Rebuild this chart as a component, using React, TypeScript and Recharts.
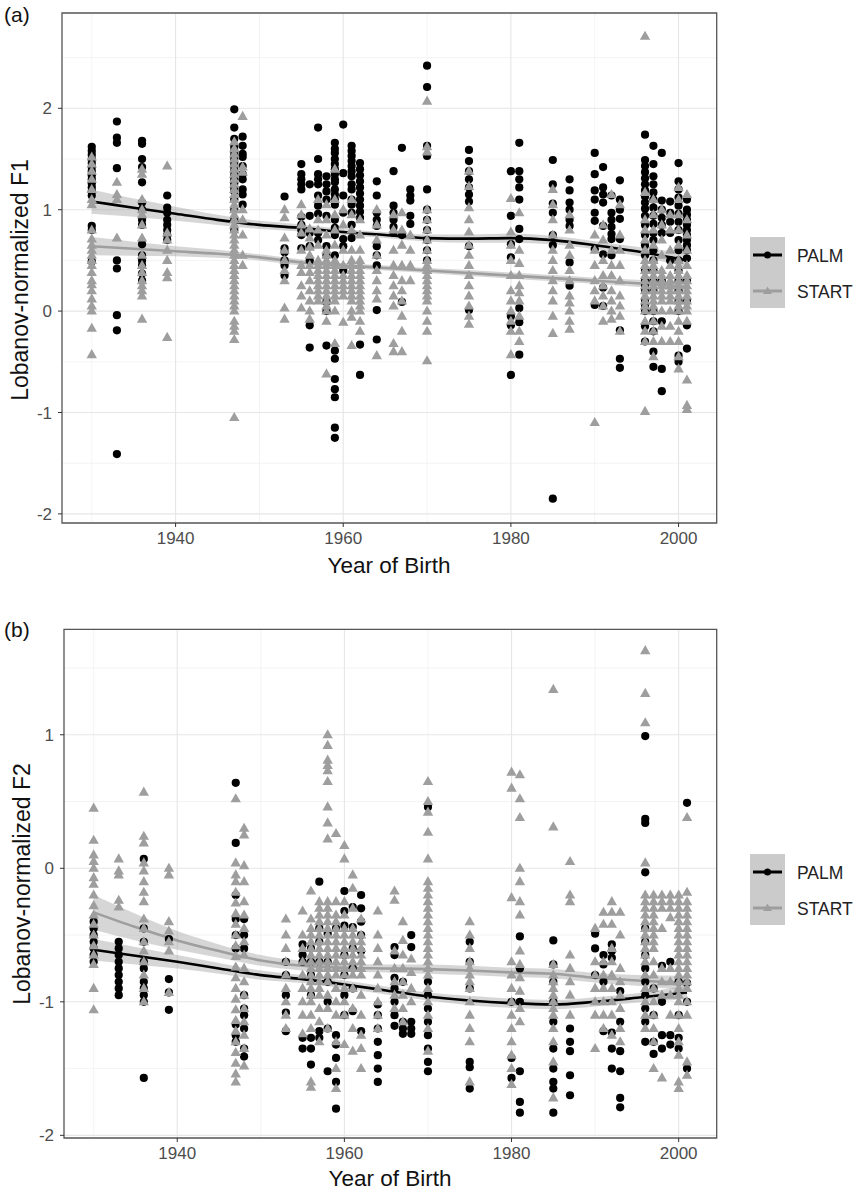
import React from 'react'
import {
  ComposedChart,
  Scatter,
  Line,
  Area,
  XAxis,
  YAxis,
  CartesianGrid,
  ReferenceArea,
} from 'recharts'

type Column = [number, number[]]

// axes
const X_DOMAIN: [number, number] = [1926.45, 2004.55]
const X_TICKS = [1940, 1960, 1980, 2000]
const X_MINOR = [1930, 1950, 1970, 1990]
const F1_DOMAIN: [number, number] = [-2.09, 2.94]
const F1_TICKS = [-2, -1, 0, 1, 2]
const F1_MINOR = [-1.5, -0.5, 0.5, 1.5, 2.5]
const F2_DOMAIN: [number, number] = [-2.02, 1.79]
const F2_TICKS = [-2, -1, 0, 1]
const F2_MINOR = [-1.5, -0.5, 0.5, 1.5]
const LEGEND_LABELS = ['PALM', 'START']

// (a) F1, PALM (black circles), one entry per birth year
const PALM_F1: Column[] = [
  [1930, [1.62, 1.58, 1.54, 1.5, 1.46, 1.42, 1.38, 1.34, 1.3, 1.26, 1.22, 1.18, 1.14, 0.84, 0.8, 0.49]],
  [1933, [1.87, 1.71, 1.66, 1.41, 0.5, 0.42, -0.04, -0.19, -1.41]],
  [1936, [1.68, 1.65, 1.5, 1.42, 1.27, 1.07, 1.0, 0.9, 0.85, 0.66, 0.55, 0.5, 0.45, 0.37, 0.3]],
  [1939, [1.14, 1.02, 0.97, 0.9, 0.85, 0.8, 0.75, 0.7]],
  [1947, [1.99, 1.81, 1.7, 1.62, 1.58, 1.54, 1.5, 1.46, 1.42, 1.38, 1.34, 1.3, 1.26, 1.22, 1.18, 1.1, 1.0, 0.9, 0.8]],
  [1948, [1.72, 1.63, 1.55, 1.52, 1.43, 1.35, 1.3, 1.2, 1.15, 1.05]],
  [1953, [1.13, 0.62, 0.58, 0.5, 0.45, 0.35]],
  [1955, [1.45, 1.35, 1.3, 1.25, 1.2, 0.93, 0.85, 0.8, 0.75, 0.62]],
  [1956, [1.25, 0.94, 0.77, 0.64, 0.5, -0.14, -0.36]],
  [1957, [1.81, 1.5, 1.35, 1.3, 1.25, 1.14, 1.04, 0.96, 0.77, 0.7]],
  [1958, [1.33, 1.25, 1.18, 1.1, 0.94, 0.64, 0.55, 0.09, 0.0, -0.34]],
  [1959, [1.66, 1.6, 1.56, 1.5, 1.45, 1.4, 1.35, 1.3, 1.27, 1.2, 1.15, 1.1, 1.05, 0.9, 0.82, 0.75, 0.55, -0.39, -0.47, -0.67, -0.77, -0.85, -1.15, -1.25]],
  [1960, [1.84, 1.36, 1.14, 0.97, 0.71, 0.64, 0.4]],
  [1961, [1.63, 1.58, 1.53, 1.48, 1.43, 1.38, 1.33, 1.25, 1.2, 1.1, 1.05, 0.97, 0.85, 0.72]],
  [1962, [1.46, 1.4, 1.34, 1.28, 1.22, 1.16, 1.1, 1.04, 0.98, 0.92, -0.33, -0.63]],
  [1964, [1.28, 1.14, 0.97, 0.9, 0.84, 0.64, 0.55, 0.45, 0.01, -0.28]],
  [1966, [1.38, 1.04, 0.97, 0.9, 0.83, 0.77]],
  [1967, [1.61, 0.75, 0.09]],
  [1968, [1.2, 1.14, 1.09, 0.94, 0.86]],
  [1970, [2.42, 2.21, 1.63, 1.53, 1.2, 1.0, 0.9, 0.8, 0.7, 0.6, 0.5]],
  [1975, [1.59, 1.48, 1.38, 1.3, 1.22, 1.15, 1.08, 0.64, 0.01]],
  [1980, [1.38, 0.94, 0.66, 0.53, -0.05, -0.14, -0.63]],
  [1981, [1.66, 1.38, 1.3, 1.22, 1.1, 0.81, 0.71, 0.03, -0.11, -0.43]],
  [1985, [1.49, 1.25, 1.06, 0.97, 0.75, 0.65, -1.85]],
  [1987, [1.3, 1.19, 1.07, 1.0, 0.9, 0.84, 0.48, 0.25]],
  [1990, [1.56, 1.35, 1.19, 1.1, 0.97, 0.89, 0.61, 0.06]],
  [1991, [1.42, 1.22, 1.15, 1.07, 0.84, 0.56, 0.23, 0.05]],
  [1992, [1.14, 0.97, 0.9, 0.83, 0.76, 0.71, 0.55]],
  [1993, [1.29, 1.1, 1.0, 0.91, 0.71, -0.19, -0.47, -0.56]],
  [1996, [1.74, 1.49, 1.43, 1.37, 1.31, 1.25, 1.19, 1.13, 1.07, 1.01, 0.94, 0.85, 0.75, 0.65, 0.55, 0.4, 0.3, 0.25, 0.2, 0.1, 0.05, 0.0, -0.15, -0.3]],
  [1997, [1.63, 1.45, 1.33, 1.25, 1.17, 1.1, 1.02, 0.94, 0.86, 0.77, 0.7, 0.6, 0.5, 0.4, 0.3, 0.2, 0.0, -0.1, -0.2, -0.4, -0.55]],
  [1998, [1.56, 1.09, 1.0, 0.92, 0.85, 0.77, 0.3, -0.1, -0.57, -0.79]],
  [1999, [1.08, 0.97, 0.88, 0.77, 0.5]],
  [2000, [1.46, 1.28, 1.2, 1.12, 1.04, 0.96, 0.88, 0.8, 0.7, 0.6, 0.5, 0.4, 0.3, 0.2, 0.1, 0.0, -0.44, -0.5]],
  [2001, [1.1, 1.0, 0.95, 0.9, 0.85, 0.8, 0.75, 0.7, 0.65, 0.6, 0.52, 0.3, 0.1, -0.14, -0.37]],
]

// (a) F1, START (grey triangles)
const START_F1: Column[] = [
  [1930, [1.52, 1.45, 1.38, 1.3, 1.2, 1.1, 1.05, 0.8, 0.71, 0.65, 0.6, 0.55, 0.5, 0.45, 0.38, 0.3, 0.26, 0.2, 0.12, 0.05, 0.0, -0.17, -0.43]],
  [1933, [1.27, 1.15, 1.1, 0.72]],
  [1936, [1.4, 1.35, 1.1, 1.0, 0.95, 0.85, 0.72, 0.55, 0.45, 0.38, 0.3, 0.25, 0.2, 0.15, -0.08]],
  [1939, [1.43, 0.77, 0.7, 0.6, 0.5, 0.38, 0.33, -0.26]],
  [1947, [1.67, 1.6, 1.55, 1.5, 1.45, 1.4, 1.35, 1.3, 1.25, 1.2, 1.15, 1.1, 1.05, 1.0, 0.95, 0.9, 0.85, 0.8, 0.75, 0.7, 0.65, 0.6, 0.55, 0.5, 0.45, 0.4, 0.35, 0.3, 0.25, 0.2, 0.15, 0.1, 0.05, 0.0, -0.1, -0.15, -0.2, -0.28, -1.05]],
  [1948, [1.92, 1.42, 1.37, 1.0, 0.9, 0.75, 0.55, 0.45]],
  [1953, [1.0, 0.92, 0.72, 0.6, 0.5, 0.4, 0.3, 0.03, -0.08]],
  [1955, [1.05, 0.95, 0.85, 0.77, 0.6, 0.45, 0.38, 0.25, 0.15, 0.03]],
  [1956, [0.81, 0.72, 0.63, 0.55, 0.45, 0.38, 0.3, 0.2, 0.1, 0.0, -0.08]],
  [1957, [1.1, 0.9, 0.8, 0.65, 0.5, 0.45, 0.4, 0.35, 0.3, 0.25, 0.2, 0.15, 0.1]],
  [1958, [1.05, 0.9, 0.75, 0.6, 0.55, 0.5, 0.45, 0.4, 0.35, 0.3, 0.25, 0.2, 0.15, 0.1, 0.05, 0.0, -0.1, -0.62]],
  [1959, [1.4, 1.1, 0.95, 0.8, 0.65, 0.5, 0.45, 0.4, 0.35, 0.3, 0.25, 0.2, 0.15, 0.1, 0.0, -0.32]],
  [1960, [1.0, 0.85, 0.6, 0.45, 0.35, 0.3, 0.25, 0.2, 0.15, -0.11]],
  [1961, [1.1, 0.95, 0.8, 0.6, 0.5, 0.45, 0.4, 0.35, 0.3, 0.25, 0.2, 0.15, 0.1, 0.0, -0.06, -0.34]],
  [1962, [0.9, 0.75, 0.6, 0.5, 0.45, 0.4, 0.35, 0.3, 0.25, 0.2, 0.15, 0.1, 0.05, 0.0, -0.1, -0.2]],
  [1964, [1.0, 0.85, 0.7, 0.55, 0.4, 0.3, 0.2, 0.12, -0.44]],
  [1966, [0.95, 0.8, 0.6, 0.45, 0.35, 0.25, 0.15, 0.05, -0.32, -0.4]],
  [1967, [0.97, 0.8, 0.65, 0.45, 0.3, 0.2, 0.1, -0.05, -0.2, -0.4]],
  [1968, [0.75, 0.6, 0.45, 0.3]],
  [1970, [2.07, 1.62, 1.57, 1.0, 0.9, 0.8, 0.7, 0.6, 0.5, 0.45, 0.4, 0.35, 0.3, 0.25, 0.2, 0.15, 0.1, 0.0, -0.1, -0.2, -0.49]],
  [1975, [1.38, 1.23, 1.02, 0.9, 0.78, 0.65, 0.55, 0.45, 0.35, 0.25, 0.15, 0.05, -0.05, -0.13]],
  [1980, [1.11, 0.78, 0.65, 0.5, 0.35, 0.2, 0.1, 0.0, -0.1, -0.2, -0.43]],
  [1981, [0.97, 0.6, 0.47, 0.35, 0.25, 0.18, 0.1, -0.05, -0.2, -0.3]],
  [1985, [1.2, 1.05, 0.9, 0.75, 0.6, 0.5, 0.4, 0.3, 0.2, 0.1, -0.05, -0.22]],
  [1987, [0.95, 0.8, 0.65, 0.55, 0.4, 0.3, 0.15, 0.08, 0.0, -0.1, -0.18]],
  [1990, [0.75, 0.6, 0.45, 0.3, 0.2, 0.1, -1.1]],
  [1991, [0.85, 0.7, 0.5, 0.35, 0.25, 0.15, 0.05, -0.1]],
  [1992, [1.15, 0.6, 0.45, 0.35, 0.2, 0.1, 0.0, -0.08]],
  [1993, [1.05, 0.75, 0.6, 0.45, 0.3, 0.15, 0.05, -0.05, -0.2]],
  [1996, [2.71, 1.17, 0.9, 0.8, 0.7, 0.6, 0.5, 0.45, 0.4, 0.35, 0.3, 0.25, 0.2, 0.15, 0.1, 0.05, 0.0, -0.1, -0.2, -0.3, -0.99]],
  [1997, [1.1, 0.95, 0.8, 0.65, 0.5, 0.45, 0.4, 0.35, 0.3, 0.25, 0.2, 0.15, 0.1, 0.05, 0.0, -0.1, -0.2, -0.3, -0.45]],
  [1998, [1.0, 0.85, 0.7, 0.55, 0.4, 0.35, 0.3, 0.25, 0.2, 0.15, 0.1, 0.0, -0.15, -0.3]],
  [1999, [0.95, 0.8, 0.6, 0.45, 0.35, 0.3, 0.25, 0.2, 0.15, 0.1, 0.0, -0.15, -0.3]],
  [2000, [1.22, 1.1, 0.95, 0.8, 0.65, 0.5, 0.45, 0.4, 0.35, 0.3, 0.25, 0.2, 0.15, 0.1, 0.05, 0.0, -0.1, -0.2, -0.3, -0.45, -0.57]],
  [2001, [1.15, 0.9, 0.75, 0.6, 0.45, 0.35, 0.3, 0.25, 0.2, 0.15, 0.1, 0.05, 0.0, -0.1, -0.68, -0.93, -0.97]],
]

// (b) F2, PALM
const PALM_F2: Column[] = [
  [1930, [-0.4, -0.45, -0.5, -0.55, -0.6, -0.65, -0.7]],
  [1933, [-0.55, -0.6, -0.65, -0.7, -0.75, -0.8, -0.85, -0.9, -0.95]],
  [1936, [0.07, -0.45, -0.55, -0.7, -0.75, -0.85, -0.9, -0.95, -1.0, -1.57]],
  [1939, [-0.53, -0.83, -0.93, -1.06]],
  [1947, [0.64, 0.19, -0.2, -0.38, -0.5, -0.6, -1.17, -1.25, -1.3]],
  [1948, [-0.38, -0.5, -0.6, -0.95, -1.05, -1.1, -1.2, -1.35, -1.41]],
  [1953, [-0.7, -0.8, -0.95, -1.08, -1.22]],
  [1955, [-0.57, -0.65, -0.7, -1.27, -1.35]],
  [1956, [-0.6, -0.7, -0.8, -0.95, -1.27, -1.35, -1.47]],
  [1957, [-0.1, -0.45, -0.55, -0.7, -1.22, -1.27]],
  [1958, [-0.49, -0.7, -0.85, -1.0, -1.2, -1.52]],
  [1959, [-0.45, -1.25, -1.32, -1.42, -1.6, -1.8]],
  [1960, [-0.17, -0.32, -0.43, -0.65, -0.8, -0.95, -1.1]],
  [1961, [-0.29, -0.44, -0.6, -0.75, -0.9, -1.07]],
  [1962, [-0.2, -0.3, -0.4, -0.5, -0.62, -1.22]],
  [1964, [-1.02, -1.1, -1.2, -1.3, -1.4, -1.5, -1.6]],
  [1966, [-0.59, -0.65, -0.82, -0.9, -1.0, -1.1, -1.18]],
  [1967, [-0.85, -1.15, -1.2, -1.24]],
  [1968, [-0.5, -0.59, -1.15, -1.2, -1.24]],
  [1970, [0.46, -0.85, -0.95, -1.05, -1.15, -1.25, -1.35, -1.45, -1.52]],
  [1975, [-0.55, -0.7, -0.9, -1.45, -1.49, -1.65]],
  [1980, [-1.0, -1.42, -1.57]],
  [1981, [-0.51, -0.75, -1.0, -1.52, -1.75, -1.83]],
  [1985, [-0.54, -0.72, -0.85, -1.0, -1.15, -1.35, -1.5, -1.6, -1.65, -1.83]],
  [1987, [-1.2, -1.3, -1.37, -1.55, -1.7]],
  [1990, [-0.49, -0.6, -0.8]],
  [1991, [-0.65, -0.72, -0.85, -1.22]],
  [1992, [-0.57, -0.62, -0.67, -1.23, -1.35, -1.5]],
  [1993, [-0.92, -1.15, -1.37, -1.52, -1.72, -1.79]],
  [1996, [0.99, 0.37, 0.34, -0.03, -0.45, -0.55, -0.65, -0.75, -0.85, -0.95, -1.05, -1.15, -1.3]],
  [1997, [-0.9, -1.1, -1.3, -1.39]],
  [1998, [-0.73, -1.0, -1.25, -1.35]],
  [1999, [-0.7, -1.25, -1.32]],
  [2000, [-0.85, -1.1, -1.27, -1.35]],
  [2001, [0.49, -0.86, -1.0, -1.5]],
]

// (b) F2, START
const START_F2: Column[] = [
  [1930, [0.45, 0.21, 0.1, 0.05, 0.0, -0.07, -0.12, -0.2, -0.28, -0.35, -0.42, -0.5, -0.58, -0.65, -0.72, -0.9, -1.06]],
  [1933, [0.07, -0.02, -0.05, -0.24, -0.29]],
  [1936, [0.57, 0.24, 0.19, 0.04, -0.02, -0.1, -0.18, -0.25, -0.38, -0.45, -0.55, -0.62, -0.7, -0.8, -0.9, -1.0]],
  [1939, [0.0, -0.05, -0.4, -0.47, -0.55, -0.62, -0.93]],
  [1947, [0.52, 0.04, -0.05, -0.1, -0.18, -0.26, -0.34, -0.42, -0.5, -0.58, -0.66, -0.74, -0.82, -0.9, -0.98, -1.06, -1.14, -1.22, -1.3, -1.38, -1.46, -1.54, -1.6]],
  [1948, [0.3, 0.25, 0.02, -0.1, -0.25, -0.35, -0.45, -0.55, -0.65, -0.75, -0.85, -0.95, -1.05, -1.15, -1.25, -1.35, -1.48]],
  [1953, [-0.38, -0.5, -0.6, -0.7, -0.8, -0.9, -1.0, -1.1, -1.2]],
  [1955, [-0.32, -0.5, -0.6, -0.7, -0.8, -0.9, -1.0, -1.1, -1.24]],
  [1956, [-0.17, -0.38, -0.45, -0.5, -0.55, -0.6, -0.65, -0.7, -0.75, -0.8, -0.85, -0.9, -0.95, -1.0, -1.1, -1.2, -1.6, -1.64]],
  [1957, [-0.25, -0.3, -0.35, -0.4, -0.45, -0.5, -0.55, -0.6, -0.65, -0.7, -0.75, -0.8, -0.85, -0.9, -0.95, -1.05, -1.15, -1.3]],
  [1958, [1.0, 0.92, 0.81, 0.77, 0.73, 0.65, 0.46, 0.34, 0.22, -0.25, -0.3, -0.35, -0.4, -0.45, -0.5, -0.55, -0.6, -0.65, -0.7, -0.75, -0.8, -0.85, -0.95, -1.05, -1.2]],
  [1959, [0.26, -0.25, -0.35, -0.4, -0.45, -0.5, -0.55, -0.6, -0.65, -0.7, -0.75, -0.8, -0.9, -1.0, -1.1, -1.3, -1.5, -1.65]],
  [1960, [0.17, 0.07, -0.25, -0.35, -0.45, -0.5, -0.55, -0.6, -0.65, -0.7, -0.75, -0.8, -0.9, -1.0, -1.1, -1.32]],
  [1961, [-0.05, -0.15, -0.3, -0.45, -0.5, -0.55, -0.6, -0.65, -0.7, -0.75, -0.8, -0.9, -1.05, -1.2, -1.37]],
  [1962, [-0.38, -0.5, -0.55, -0.6, -0.65, -0.7, -0.75, -0.8, -0.95, -1.1, -1.25, -1.35, -1.5]],
  [1964, [-0.32, -0.5, -0.6, -0.7, -0.8, -0.9, -1.0, -1.1, -1.2]],
  [1966, [-0.17, -0.24, -0.62, -0.75, -0.85, -0.95, -1.05]],
  [1967, [-0.4, -0.54, -0.65, -0.75, -0.85, -0.95, -1.05, -1.15]],
  [1968, [-0.68, -0.78, -0.9, -1.0]],
  [1970, [0.65, 0.5, 0.42, 0.27, 0.07, -0.1, -0.15, -0.2, -0.25, -0.3, -0.35, -0.4, -0.45, -0.5, -0.55, -0.6, -0.65, -0.7, -0.75, -0.8, -0.9, -1.0, -1.1, -1.2, -1.37]],
  [1975, [-0.4, -0.5, -0.6, -0.7, -0.75, -0.8, -0.85, -0.9, -1.0, -1.1, -1.2, -1.3, -1.6]],
  [1980, [0.72, 0.6, -0.22, -0.7, -0.8, -0.9, -1.0, -1.1, -1.2, -1.3, -1.4, -1.5, -1.62]],
  [1981, [0.7, 0.52, 0.38, 0.0, -0.1, -0.25, -0.35, -0.62, -0.72, -0.82, -0.92, -1.05, -1.15]],
  [1985, [1.34, 0.31, -0.72, -0.8, -0.85, -0.9, -0.95, -1.0, -1.05, -1.1, -1.2, -1.3, -1.45, -1.72]],
  [1987, [0.05, -0.2, -0.25, -0.65, -0.75, -0.85, -0.95, -1.1]],
  [1990, [-0.45, -0.7, -0.8, -0.9, -1.0, -1.1, -1.35]],
  [1991, [-0.33, -0.42, -0.7, -0.8, -0.9, -1.0, -1.1, -1.2]],
  [1992, [-0.25, -0.33, -0.42, -0.6, -0.7, -0.8, -0.9, -1.0, -1.1, -1.25]],
  [1993, [-0.33, -0.5, -0.75, -0.85, -0.95, -1.05, -1.2, -1.3]],
  [1996, [1.63, 1.31, 1.09, 0.04, -0.2, -0.25, -0.3, -0.35, -0.4, -0.45, -0.5, -0.55, -0.6, -0.65, -0.7, -0.8, -0.9, -1.0, -1.1, -1.2]],
  [1997, [-0.2, -0.25, -0.3, -0.35, -0.4, -0.45, -0.5, -0.55, -0.6, -0.7, -0.8, -0.9, -1.0, -1.1, -1.2, -1.3, -1.5]],
  [1998, [-0.2, -0.25, -0.3, -0.45, -0.75, -0.85, -0.95, -1.57]],
  [1999, [-0.2, -0.25, -0.3, -0.37, -0.75, -0.85, -0.95, -1.1]],
  [2000, [-0.2, -0.25, -0.3, -0.35, -0.4, -0.45, -0.5, -0.55, -0.6, -0.65, -0.7, -0.75, -0.8, -0.85, -0.9, -0.95, -1.0, -1.1, -1.2, -1.3, -1.4, -1.6, -1.65]],
  [2001, [0.38, -0.18, -0.25, -0.3, -0.35, -0.4, -0.45, -0.5, -0.55, -0.6, -0.65, -0.7, -0.75, -0.8, -0.85, -0.9, -1.0, -1.1, -1.45, -1.55]],
]

// smoothed fits (loess) and half width of the confidence band
const FIT_YEARS = [1930, 1935, 1940, 1945, 1950, 1955, 1960, 1965, 1970, 1975, 1980, 1985, 1990, 1995, 2001]
const PALM_F1_FIT = [1.08, 1.02, 0.96, 0.9, 0.85, 0.82, 0.78, 0.75, 0.72, 0.715, 0.72, 0.7, 0.65, 0.59, 0.5]
const PALM_F1_SE = [0.12, 0.09, 0.07, 0.05, 0.04, 0.035, 0.03, 0.03, 0.035, 0.04, 0.045, 0.04, 0.04, 0.045, 0.07]
const START_F1_FIT = [0.64, 0.615, 0.59, 0.565, 0.53, 0.48, 0.45, 0.425, 0.4, 0.375, 0.35, 0.325, 0.3, 0.275, 0.24]
const START_F1_SE = [0.09, 0.07, 0.05, 0.04, 0.03, 0.03, 0.025, 0.025, 0.025, 0.03, 0.03, 0.03, 0.03, 0.035, 0.05]
const PALM_F2_FIT = [-0.61, -0.655, -0.7, -0.75, -0.8, -0.83, -0.87, -0.915, -0.96, -0.99, -1.01, -1.02, -1.0, -0.97, -0.93]
const PALM_F2_SE = [0.08, 0.065, 0.05, 0.04, 0.035, 0.03, 0.03, 0.03, 0.03, 0.035, 0.035, 0.035, 0.035, 0.035, 0.05]
const START_F2_FIT = [-0.33, -0.44, -0.54, -0.62, -0.69, -0.73, -0.745, -0.75, -0.755, -0.765, -0.78, -0.79, -0.82, -0.84, -0.86]
const START_F2_SE = [0.13, 0.1, 0.07, 0.05, 0.04, 0.035, 0.03, 0.03, 0.035, 0.035, 0.035, 0.035, 0.035, 0.04, 0.055]

const FONT = '"Liberation Sans", Arial, Helvetica, sans-serif'
const GREY = '#9e9e9e'

const toPoints = (cols: Column[]) =>
  cols.flatMap(([year, vs]) => vs.map(v => ({ year, v })))

const Dot = (props: any) => <circle cx={props.cx} cy={props.cy} r={4.1} fill="#000" />

const Tri = (props: any) => {
  const { cx, cy } = props
  return (
    <polygon
      points={`${cx},${cy - 5.6} ${cx - 5.2},${cy + 3.5} ${cx + 5.2},${cy + 3.5}`}
      fill={GREY}
    />
  )
}

interface PanelProps {
  top: number
  height: number
  margin: { top: number; right: number; bottom: number; left: number }
  yDomain: [number, number]
  yTicks: number[]
  yMinor: number[]
  palm: Column[]
  start: Column[]
  palmFit: number[]
  palmSe: number[]
  startFit: number[]
  startSe: number[]
}

function Panel(p: PanelProps) {
  const fitData = FIT_YEARS.map((year, i) => ({
    year,
    palm: p.palmFit[i],
    palmBand: [p.palmFit[i] - p.palmSe[i], p.palmFit[i] + p.palmSe[i]],
    start: p.startFit[i],
    startBand: [p.startFit[i] - p.startSe[i], p.startFit[i] + p.startSe[i]],
  }))

  return (
    <div style={{ position: 'absolute', left: 0, top: p.top }}>
      <ComposedChart width={858} height={p.height} margin={p.margin} data={fitData}>
        <CartesianGrid
          horizontalValues={p.yMinor}
          verticalValues={X_MINOR}
          stroke="#efefef"
          strokeWidth={0.7}
        />
        <CartesianGrid
          horizontalValues={p.yTicks}
          verticalValues={X_TICKS}
          stroke="#e6e6e6"
          strokeWidth={1.1}
        />
        <XAxis
          type="number"
          dataKey="year"
          domain={X_DOMAIN}
          allowDataOverflow
          ticks={X_TICKS}
          height={30}
          tickSize={4}
          tickMargin={5}
          axisLine={false}
          tickLine={{ stroke: '#333' }}
          tick={{ fill: '#4d4d4d', fontSize: 17 }}
        />
        <YAxis
          type="number"
          dataKey="v"
          domain={p.yDomain}
          allowDataOverflow
          ticks={p.yTicks}
          width={50}
          tickSize={4}
          tickMargin={6}
          axisLine={false}
          tickLine={{ stroke: '#333' }}
          tick={{ fill: '#4d4d4d', fontSize: 17 }}
        />
        <Scatter data={toPoints(p.palm)} shape={Dot} isAnimationActive={false} />
        <Scatter data={toPoints(p.start)} shape={Tri} isAnimationActive={false} />
        <Area
          dataKey="palmBand"
          type="monotone"
          stroke="none"
          fill="#999"
          fillOpacity={0.4}
          isAnimationActive={false}
        />
        <Line
          dataKey="palm"
          type="monotone"
          stroke="#000"
          strokeWidth={2.6}
          dot={false}
          isAnimationActive={false}
        />
        <Area
          dataKey="startBand"
          type="monotone"
          stroke="none"
          fill="#999"
          fillOpacity={0.4}
          isAnimationActive={false}
        />
        <Line
          dataKey="start"
          type="monotone"
          stroke={GREY}
          strokeWidth={2.6}
          dot={false}
          isAnimationActive={false}
        />
        <ReferenceArea
          x1={X_DOMAIN[0]}
          x2={X_DOMAIN[1]}
          y1={p.yDomain[0]}
          y2={p.yDomain[1]}
          fill="none"
          stroke="#555"
          strokeWidth={1.3}
        />
      </ComposedChart>
    </div>
  )
}

function LegendBox({ top }: { top: number }) {
  return (
    <g>
      <rect x={750} y={top} width={35} height={71} fill="#cbcbcb" />
      <line x1={753} x2={782} y1={top + 18} y2={top + 18} stroke="#000" strokeWidth={3} />
      <circle cx={767.5} cy={top + 18} r={3.5} fill="#000" />
      <line x1={753} x2={782} y1={top + 54} y2={top + 54} stroke={GREY} strokeWidth={3} />
      <polygon
        points={`767.5,${top + 49.5} 763,${top + 57} 772,${top + 57}`}
        fill={GREY}
      />
      {LEGEND_LABELS.map((label, i) => (
        <text key={label} x={797} y={top + 24.5 + i * 36} fontSize={17.5} fill="#222">
          {label}
        </text>
      ))}
    </g>
  )
}

export default function App() {
  return (
    <div
      style={{
        position: 'absolute',
        left: 0,
        top: 0,
        width: 858,
        height: 1192,
        background: '#fff',
        fontFamily: FONT,
      }}
    >
      <Panel
        top={0}
        height={590}
        margin={{ top: 13, right: 141.3, bottom: 37, left: 12 }}
        yDomain={F1_DOMAIN}
        yTicks={F1_TICKS}
        yMinor={F1_MINOR}
        palm={PALM_F1}
        start={START_F1}
        palmFit={PALM_F1_FIT}
        palmSe={PALM_F1_SE}
        startFit={START_F1_FIT}
        startSe={START_F1_SE}
      />
      <Panel
        top={590}
        height={602}
        margin={{ top: 39.3, right: 141.3, bottom: 24, left: 14 }}
        yDomain={F2_DOMAIN}
        yTicks={F2_TICKS}
        yMinor={F2_MINOR}
        palm={PALM_F2}
        start={START_F2}
        palmFit={PALM_F2_FIT}
        palmSe={PALM_F2_SE}
        startFit={START_F2_FIT}
        startSe={START_F2_SE}
      />
      <svg
        width={858}
        height={1192}
        style={{ position: 'absolute', left: 0, top: 0, pointerEvents: 'none' }}
        fontFamily={FONT}
      >
        <text x={4} y={22} fontSize={21} fill="#111">(a)</text>
        <text x={4} y={637} fontSize={21} fill="#111">(b)</text>
        <text
          transform="translate(28, 280) rotate(-90)"
          textAnchor="middle"
          fontSize={23}
          fill="#111"
        >
          Lobanov-normalized F1
        </text>
        <text
          transform="translate(30, 884) rotate(-90)"
          textAnchor="middle"
          fontSize={23}
          fill="#111"
        >
          Lobanov-normalized F2
        </text>
        <text x={389} y={573} textAnchor="middle" fontSize={22.5} fill="#111">
          Year of Birth
        </text>
        <text x={390} y={1186} textAnchor="middle" fontSize={22.5} fill="#111">
          Year of Birth
        </text>
        <LegendBox top={237} />
        <LegendBox top={854} />
      </svg>
    </div>
  )
}
